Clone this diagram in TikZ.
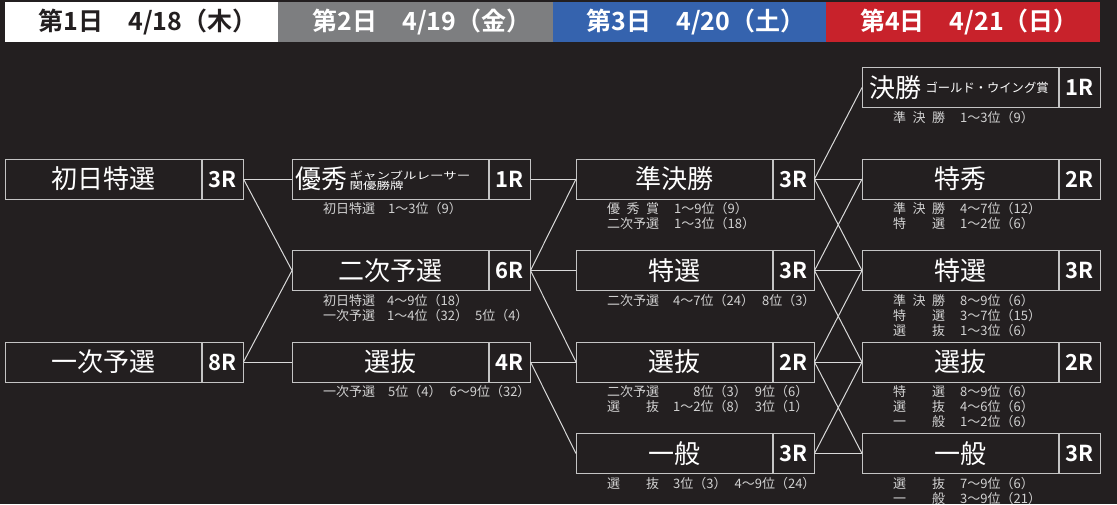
\documentclass[tikz,border=0pt]{standalone}
\usepackage{fontspec}
\usepackage{graphicx}
\setmainfont{Noto Sans CJK JP}[BoldFont={Noto Sans CJK JP Bold}]
\definecolor{bgc}{HTML}{231F20}
\definecolor{boxc}{HTML}{C4C4C4}
\definecolor{linec}{HTML}{D9D9D9}
\definecolor{subc}{HTML}{D2D2D2}
\definecolor{hgray}{HTML}{7D7E80}
\definecolor{hblue}{HTML}{3563AE}
\definecolor{hred}{HTML}{C8222B}
\newcommand\lab[1]{\makebox[4em][s]{#1}}
\tikzset{
  mainbox/.style={draw=boxc, line width=1pt, minimum width=196pt, minimum height=40pt, inner sep=0pt, anchor=west},
  rbox/.style={draw=boxc, line width=1pt, minimum width=40.5pt, minimum height=40pt, inner sep=0pt, anchor=west, text=white, font=\fontsize{22}{22}\selectfont\bfseries},
  bigtxt/.style={inner sep=0pt, text=white, font=\fontsize{26}{26}\selectfont},
  smalltxt/.style={inner sep=0pt, text=white, anchor=west},
  subtxt/.style={inner sep=0pt, anchor=base west, text=subc, font=\fontsize{13}{13}\selectfont},
  hseg/.style={anchor=north west, minimum height=40pt, inner sep=0pt, font=\fontsize{25}{25}\selectfont\bfseries},
  link/.style={draw=linec, line width=1pt}
}
\newcommand\race[5]{%
  \node[mainbox] (#1) at (#2,#3) {};
  \node[rbox] (#1r) at (#1.east) {#5};
  \node[bigtxt] (#1t) at (#1.center) {#4};
}
\begin{document}
\begin{tikzpicture}[x=1pt,y=-1pt]
\fill[bgc] (0,0) rectangle (1117,504);
\useasboundingbox (0,0) rectangle (1117,504);
% header
\node[hseg, fill=white, minimum width=273pt, text=bgc] (h1) at (5,2) {\hspace{0.5em}第1日　4/18（木）};
\node[hseg, fill=hgray, minimum width=275pt, text=white] (h2) at (278,2) {\hspace{0.5em}第2日　4/19（金）};
\node[hseg, fill=hblue, minimum width=273pt, text=white] (h3) at (553,2) {\hspace{0.5em}第3日　4/20（土）};
\node[hseg, fill=hred, minimum width=274pt, text=white] (h4) at (826,2) {\hspace{0.5em}第4日　4/21（日）};
% column 1
\race{a1}{5}{179}{初日特選}{3R}
\race{a2}{5}{362}{一次予選}{8R}
% column 2
\race{b1}{292}{179}{}{1R}
\node[bigtxt, anchor=west] (b1big) at (295,179) {優秀};
\node[smalltxt, align=left, font=\fontsize{10}{10}\selectfont] (b1small) at ([xshift=2pt,yshift=-2.5pt]b1big.east) {\scalebox{1.35}[1]{\begin{tabular}{@{}l@{}}ギャンブルレーサー\\[-1.5pt]関優勝牌\end{tabular}}};
\race{b2}{292}{270.5}{二次予選}{6R}
\race{b3}{292}{362}{選抜}{4R}
% column 3
\race{c1}{576}{179}{準決勝}{3R}
\race{c2}{576}{270.5}{特選}{3R}
\race{c3}{576}{362}{選抜}{2R}
\race{c4}{576}{453.5}{一般}{3R}
% column 4
\race{d1}{862}{87.5}{}{1R}
\node[bigtxt, anchor=west] (d1big) at (869,87.5) {決勝};
\node[smalltxt, font=\fontsize{12.3}{12}\selectfont] (d1small) at ([xshift=4pt,yshift=-0.5pt]d1big.east) {ゴールド・ウイング賞};
\race{d2}{862}{179}{特秀}{2R}
\race{d3}{862}{270.5}{特選}{3R}
\race{d4}{862}{362}{選抜}{2R}
\race{d5}{862}{453.5}{一般}{3R}
% sub texts column 2
\node[subtxt] (sb1) at (323,213.5) {\begin{tabular}[t]{@{}l@{\hspace{13pt}}l@{}}\lab{初日特選} & 1～3位（9）\end{tabular}};
\node[subtxt] (sb2) at (323,305) {\begin{tabular}[t]{@{}l@{\hspace{12pt}}l@{\hspace{7pt}}l@{}}\lab{初日特選} & 4～9位（18） & \\ \lab{一次予選} & 1～4位（32） & 5位（4）\end{tabular}};
\node[subtxt] (sb3) at (323,396.5) {\begin{tabular}[t]{@{}l@{\hspace{13pt}}l@{\hspace{8pt}}l@{}}\lab{一次予選} & 5位（4） & 6～9位（32）\end{tabular}};
% sub texts column 3
\node[subtxt] (sc1) at (607,213.5) {\begin{tabular}[t]{@{}l@{\hspace{15pt}}l@{}}\lab{優\hfill 秀\hfill 賞} & 1～9位（9）\\ \lab{二次予選} & 1～3位（18）\end{tabular}};
\node[subtxt] (sc2) at (607,305) {\begin{tabular}[t]{@{}l@{\hspace{14pt}}l@{\hspace{8pt}}l@{}}\lab{二次予選} & 4～7位（24） & 8位（3）\end{tabular}};
\node[subtxt] (sc3) at (607,396.5) {\begin{tabular}[t]{@{}l@{\hspace{14pt}}r@{\hspace{8pt}}l@{}}\lab{二次予選} & 8位（3） & 9位（6）\\ \lab{選\hfill 抜} & 1～2位（8） & 3位（1）\end{tabular}};
\node[subtxt] (sc4) at (607,488) {\begin{tabular}[t]{@{}l@{\hspace{14pt}}l@{\hspace{8pt}}l@{}}\lab{選\hfill 抜} & 3位（3） & 4～9位（24）\end{tabular}};
% sub texts column 4
\node[subtxt] (sd1) at (893,122) {\begin{tabular}[t]{@{}l@{\hspace{15pt}}l@{}}\lab{準\hfill 決\hfill 勝} & 1～3位（9）\end{tabular}};
\node[subtxt] (sd2) at (893,213.5) {\begin{tabular}[t]{@{}l@{\hspace{15pt}}l@{}}\lab{準\hfill 決\hfill 勝} & 4～7位（12）\\ \lab{特\hfill 選} & 1～2位（6）\end{tabular}};
\node[subtxt] (sd3) at (893,305) {\begin{tabular}[t]{@{}l@{\hspace{15pt}}l@{}}\lab{準\hfill 決\hfill 勝} & 8～9位（6）\\ \lab{特\hfill 選} & 3～7位（15）\\ \lab{選\hfill 抜} & 1～3位（6）\end{tabular}};
\node[subtxt] (sd4) at (893,396.5) {\begin{tabular}[t]{@{}l@{\hspace{15pt}}l@{}}\lab{特\hfill 選} & 8～9位（6）\\ \lab{選\hfill 抜} & 4～6位（6）\\ \lab{一\hfill 般} & 1～2位（6）\end{tabular}};
\node[subtxt] (sd5) at (893,488) {\begin{tabular}[t]{@{}l@{\hspace{15pt}}l@{}}\lab{選\hfill 抜} & 7～9位（6）\\ \lab{一\hfill 般} & 3～9位（21）\end{tabular}};
% connectors
\draw[link] (a1r.east) -- (b1.west);
\draw[link] (a1r.east) -- (b2.west);
\draw[link] (a2r.east) -- (b2.west);
\draw[link] (a2r.east) -- (b3.west);
\draw[link] (b1r.east) -- (c1.west);
\draw[link] (b2r.east) -- (c1.west);
\draw[link] (b2r.east) -- (c2.west);
\draw[link] (b2r.east) -- (c3.west);
\draw[link] (b3r.east) -- (c3.west);
\draw[link] (b3r.east) -- (c4.west);
\draw[link] (c1r.east) -- (d1.west);
\draw[link] (c1r.east) -- (d2.west);
\draw[link] (c1r.east) -- (d3.west);
\draw[link] (c2r.east) -- (d2.west);
\draw[link] (c2r.east) -- (d3.west);
\draw[link] (c2r.east) -- (d4.west);
\draw[link] (c3r.east) -- (d3.west);
\draw[link] (c3r.east) -- (d4.west);
\draw[link] (c3r.east) -- (d5.west);
\draw[link] (c4r.east) -- (d4.west);
\draw[link] (c4r.east) -- (d5.west);
\end{tikzpicture}
\end{document}
